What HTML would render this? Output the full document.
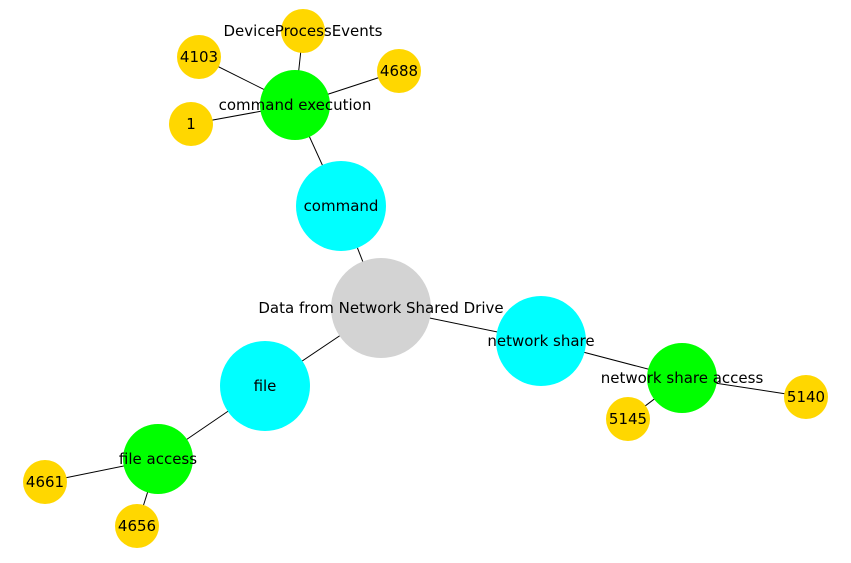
<!DOCTYPE html>
<html><head><style>body{margin:0;background:#fff}svg text{font-family:"DejaVu Sans","Liberation Sans",sans-serif;font-size:15px;fill:#000;text-anchor:middle;dominant-baseline:central}</style></head>
<body>
<svg width="851" height="558" viewBox="0 0 851 558">
<g stroke="#000" stroke-width="1">
<line x1="381" y1="308" x2="341" y2="206"/>
<line x1="381" y1="308" x2="541" y2="341"/>
<line x1="381" y1="308" x2="265" y2="386"/>
<line x1="341" y1="206" x2="295" y2="105"/>
<line x1="541" y1="341" x2="682" y2="378"/>
<line x1="265" y1="386" x2="158" y2="459"/>
<line x1="295" y1="105" x2="303" y2="31"/>
<line x1="295" y1="105" x2="199" y2="57"/>
<line x1="295" y1="105" x2="399" y2="71"/>
<line x1="295" y1="105" x2="191" y2="124"/>
<line x1="682" y1="378" x2="806" y2="397"/>
<line x1="682" y1="378" x2="628" y2="419"/>
<line x1="158" y1="459" x2="45" y2="482"/>
<line x1="158" y1="459" x2="137" y2="526"/>
</g>
<circle cx="381" cy="308" r="50" fill="#d3d3d3"/>
<g fill="#00ffff"><circle cx="341" cy="206" r="45"/><circle cx="541" cy="341" r="45"/><circle cx="265" cy="386" r="45"/></g>
<g fill="#00ff00"><circle cx="295" cy="105" r="35"/><circle cx="682" cy="378" r="35"/><circle cx="158" cy="459" r="35"/></g>
<g fill="#ffd700"><circle cx="303" cy="31" r="22"/><circle cx="199" cy="57" r="22"/><circle cx="399" cy="71" r="22"/><circle cx="191" cy="124" r="22"/><circle cx="806" cy="397" r="22"/><circle cx="628" cy="419" r="22"/><circle cx="45" cy="482" r="22"/><circle cx="137" cy="526" r="22"/></g>
<text x="381" y="308">Data from Network Shared Drive</text>
<text x="341" y="206">command</text>
<text x="541" y="341">network share</text>
<text x="265" y="386">file</text>
<text x="295" y="105">command execution</text>
<text x="682" y="378">network share access</text>
<text x="158" y="459">file access</text>
<text x="303" y="31">DeviceProcessEvents</text>
<text x="199" y="57">4103</text>
<text x="399" y="71">4688</text>
<text x="191" y="124">1</text>
<text x="806" y="397">5140</text>
<text x="628" y="419">5145</text>
<text x="45" y="482">4661</text>
<text x="137" y="526">4656</text>
</svg>
</body></html>
